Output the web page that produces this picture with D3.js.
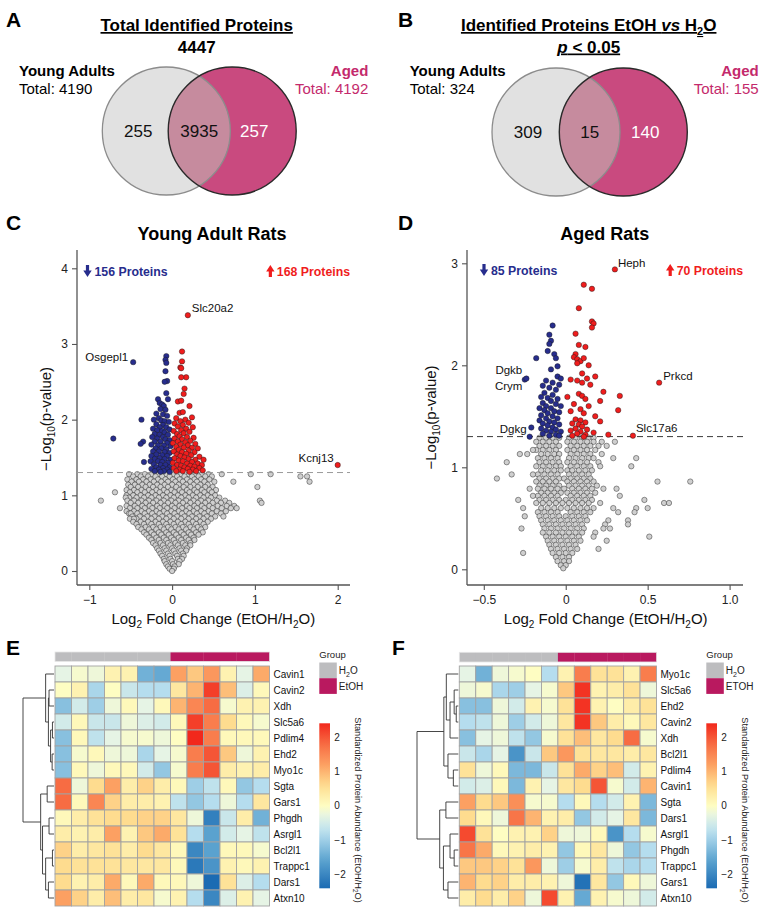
<!DOCTYPE html>
<html><head><meta charset="utf-8">
<script src="https://cdn.jsdelivr.net/npm/d3@7"></script>
<style>
body{margin:0;background:#fff;}
svg{display:block;font-family:"Liberation Sans",Arial,sans-serif;}
</style></head><body>
<svg id="fig" width="766" height="920"></svg>
<script>
// ================= DATA =================
// Venn A / B
const vennNames = ["Young Adults", "Aged"];
const vennCountsA = [255, 3935, 257];
const vennTotalsA = [4190, 4192];
const vennGrandA = 4447;
const vennCountsB = [309, 15, 140];
const vennTotalsB = [324, 155];

// Volcano ticks and counts
const ticksCx = [-1, 0, 1, 2];
const ticksCy = [0, 1, 2, 3, 4];
const ticksDx = [-0.5, 0, 0.5, 1.0];
const ticksDy = [0, 1, 2, 3];
const countsC = [156, 168];
const countsD = [85, 70];
const pThreshold = 0.05;

// Volcano C (young adult) : gray rows [y, [x...]]
const grayRowsC = [
 [1.28,[-0.52,-0.42,-0.33,-0.25,-0.16,-0.07,0.02,0.11,0.20,0.28,0.36,0.44,0.60,0.95,1.19]],
 [1.25,[-0.47,-0.38,-0.29,-0.20,-0.12,-0.03,0.06,0.15,0.24,0.32,0.40,0.48,1.55,1.63]],
 [1.21,[-0.54,-0.43,-0.35,-0.26,-0.17,-0.08,0.01,0.09,0.18,0.27,0.35,0.45]],
 [1.18,[-0.49,-0.40,-0.31,-0.22,-0.13,-0.05,0.04,0.13,0.22,0.30,0.39,0.51,0.74,1.66]],
 [1.14,[-0.53,-0.45,-0.36,-0.27,-0.18,-0.09,0.00,0.08,0.17,0.26,0.34,0.43]],
 [1.11,[-0.50,-0.41,-0.32,-0.23,-0.14,-0.05,0.05,0.14,0.22,0.31,0.40,0.49,1.03]],
 [1.07,[-0.55,-0.46,-0.37,-0.28,-0.19,-0.10,-0.01,0.09,0.18,0.27,0.36,0.45,0.53]],
 [1.04,[-0.51,-0.42,-0.33,-0.24,-0.15,-0.06,0.03,0.12,0.21,0.30,0.39,0.48,-0.69]],
 [1.00,[-0.55,-0.47,-0.38,-0.29,-0.20,-0.11,-0.02,0.07,0.16,0.25,0.34,0.43,0.52]],
 [0.97,[-0.52,-0.43,-0.34,-0.25,-0.16,-0.07,0.02,0.11,0.20,0.29,0.38,0.47,0.57,-0.56]],
 [0.93,[-0.54,-0.46,-0.37,-0.28,-0.19,-0.10,-0.01,0.08,0.17,0.26,0.35,0.44,0.54,0.64,1.06,-0.86]],
 [0.90,[-0.50,-0.41,-0.32,-0.23,-0.14,-0.05,0.04,0.13,0.22,0.31,0.40,0.49,0.59,0.69,1.08]],
 [0.86,[-0.55,-0.45,-0.36,-0.27,-0.18,-0.09,0.00,0.09,0.18,0.27,0.36,0.45,0.55,0.66,0.75]],
 [0.83,[-0.51,-0.42,-0.33,-0.24,-0.15,-0.06,0.03,0.12,0.21,0.30,0.39,0.49,0.60,0.71,0.78,-0.63]],
 [0.79,[-0.55,-0.46,-0.37,-0.28,-0.19,-0.10,-0.01,0.08,0.17,0.26,0.35,0.44,0.54,0.65]],
 [0.76,[-0.52,-0.42,-0.33,-0.24,-0.15,-0.06,0.03,0.12,0.21,0.30,0.39,0.48,0.59,-0.50]],
 [0.72,[-0.48,-0.39,-0.30,-0.21,-0.12,-0.03,0.06,0.15,0.24,0.33,0.42,0.52,0.62]],
 [0.69,[-0.51,-0.43,-0.34,-0.25,-0.16,-0.07,0.02,0.11,0.20,0.29,0.38,0.47,-0.46]],
 [0.65,[-0.47,-0.38,-0.29,-0.20,-0.11,-0.02,0.07,0.16,0.25,0.34,0.43]],
 [0.62,[-0.43,-0.34,-0.25,-0.16,-0.07,0.02,0.11,0.20,0.29,0.38]],
 [0.58,[-0.41,-0.32,-0.23,-0.14,-0.05,0.04,0.13,0.22,0.31,0.40]],
 [0.55,[-0.37,-0.28,-0.19,-0.10,-0.01,0.08,0.17,0.26,0.35]],
 [0.51,[-0.34,-0.25,-0.16,-0.07,0.02,0.11,0.20,0.29,0.37]],
 [0.48,[-0.31,-0.22,-0.13,-0.04,0.05,0.14,0.23,0.32]],
 [0.44,[-0.28,-0.19,-0.10,-0.01,0.08,0.17,0.26]],
 [0.41,[-0.25,-0.16,-0.07,0.02,0.11,0.20,0.27]],
 [0.37,[-0.23,-0.14,-0.05,0.04,0.13,0.22]],
 [0.34,[-0.20,-0.11,-0.02,0.07,0.16,0.22]],
 [0.30,[-0.18,-0.09,0.00,0.09,0.18]],
 [0.27,[-0.16,-0.07,0.02,0.11,0.17]],
 [0.23,[-0.14,-0.05,0.04,0.13]],
 [0.20,[-0.12,-0.03,0.06,0.14]],
 [0.16,[-0.10,-0.02,0.07,0.12]],
 [0.13,[-0.09,0.00,0.09]],
 [0.09,[-0.07,0.01,0.08]],
 [0.06,[-0.05,0.03]],
 [0.03,[-0.03,0.02]],
 [0.00,[0.00]]
];
const blueC = [[-0.07,2.84],[-0.08,2.79],[-0.07,2.75],[-0.08,2.64],[-0.06,2.51],[-0.09,2.50],[-0.07,2.35],[-0.05,2.27],[-0.17,2.27],[-0.15,2.22],[-0.12,2.20],[-0.10,2.18],[-0.14,2.14],[-0.08,2.13],[-0.19,2.08],[-0.11,2.07],[-0.06,2.05],[-0.16,2.02],[-0.22,2.00],[-0.13,1.99],[-0.09,1.98],[-0.04,1.97],[-0.19,1.94],[-0.11,1.93],[-0.15,1.90],[-0.07,1.90],[-0.23,1.88],[-0.03,1.87],[-0.18,1.86],[-0.12,1.85],[-0.09,1.83],[-0.21,1.81],[-0.15,1.80],[-0.05,1.80],[-0.24,1.77],[-0.11,1.77],[-0.18,1.75],[-0.08,1.74],[-0.03,1.73],[-0.21,1.71],[-0.14,1.71],[-0.06,1.69],[-0.25,1.67],[-0.17,1.66],[-0.10,1.66],[-0.02,1.65],[-0.20,1.62],[-0.13,1.62],[-0.07,1.61],[-0.23,1.58],[-0.16,1.58],[-0.09,1.57],[-0.03,1.56],[-0.19,1.54],[-0.12,1.53],[-0.25,1.52],[-0.06,1.52],[-0.15,1.49],[-0.21,1.48],[-0.09,1.48],[-0.02,1.47],[-0.26,1.45],[-0.17,1.45],[-0.12,1.44],[-0.05,1.43],[-0.22,1.41],[-0.14,1.40],[-0.08,1.40],[-0.19,1.37],[-0.03,1.37],[-0.11,1.36],[-0.25,1.35],[-0.16,1.34],[-0.06,1.34],[-0.21,1.32],[-0.10,1.32],[-0.14,1.31],[-0.03,1.31],
 [-0.71,1.75],[-0.37,2.00],[-0.35,1.71],[-0.38,1.68],[-0.34,1.44]];
const redC = [[0.12,2.90],[0.12,2.77],[0.10,2.69],[0.11,2.68],[0.17,2.56],[0.11,2.56],[0.15,2.41],[0.14,2.34],[0.07,2.24],[0.11,2.25],[0.21,2.18],[0.09,2.09],[0.13,2.10],[0.24,2.03],[0.05,2.02],[0.16,2.00],[0.10,1.98],[0.20,1.96],[0.03,1.95],[0.13,1.93],[0.07,1.91],[0.25,1.90],[0.17,1.88],[0.11,1.86],[0.02,1.85],[0.21,1.84],[0.14,1.82],[0.06,1.81],[0.09,1.78],[0.18,1.77],[0.26,1.76],[0.03,1.75],[0.12,1.74],[0.22,1.72],[0.07,1.71],[0.16,1.70],[0.01,1.69],[0.28,1.68],[0.10,1.67],[0.19,1.66],[0.05,1.64],[0.14,1.63],[0.24,1.63],[0.31,1.62],[0.08,1.60],[0.20,1.59],[0.02,1.58],[0.12,1.57],[0.27,1.57],[0.17,1.55],[0.06,1.54],[0.23,1.53],[0.10,1.52],[0.33,1.51],[0.15,1.50],[0.03,1.49],[0.20,1.48],[0.28,1.47],[0.38,1.47],[0.08,1.46],[0.13,1.45],[0.24,1.44],[0.01,1.43],[0.18,1.42],[0.31,1.42],[0.36,1.40],[0.06,1.40],[0.11,1.39],[0.22,1.39],[0.27,1.38],[0.15,1.37],[0.02,1.36],[0.33,1.36],[0.19,1.35],[0.09,1.34],[0.25,1.34],[0.37,1.33],[0.13,1.32],[0.05,1.32],[0.29,1.32],[0.21,1.31]];
const labeledC = [["Slc20a2",0.19,3.38,"up"],["Osgepl1",-0.47,2.76,"down"],["Kcnj13",2.00,1.40,"up"]];

// Volcano D (aged)
const grayRowsD = [
 [1.29,[-0.16,-0.12,-0.08,-0.04,0.02,0.06,0.10,0.14,0.17]],
 [1.25,[-0.18,-0.14,-0.10,-0.06,0.01,0.05,0.09,0.13,0.17,0.22,0.30]],
 [1.21,[-0.16,-0.12,-0.08,-0.04,0.03,0.07,0.11,0.15,0.20,0.25]],
 [1.17,[-0.18,-0.14,-0.10,-0.06,0.01,0.05,0.09,0.13,0.18,-0.20]],
 [1.13,[-0.15,-0.11,-0.07,-0.04,0.03,0.07,0.11,0.15,0.22,-0.28,-0.235]],
 [1.09,[-0.17,-0.13,-0.09,-0.05,0.02,0.06,0.10,0.14,0.17,0.29,0.43]],
 [1.05,[-0.16,-0.12,-0.08,-0.04,0.01,0.05,0.09,0.13,0.20,-0.36]],
 [1.01,[-0.18,-0.14,-0.10,-0.06,-0.03,0.03,0.07,0.11,0.15,0.40,0.21]],
 [0.97,[-0.15,-0.11,-0.07,-0.03,0.01,0.04,0.08,0.12,0.16]],
 [0.93,[-0.17,-0.13,-0.09,-0.05,0.02,0.06,0.10,0.14,-0.33,-0.20]],
 [0.89,[-0.16,-0.12,-0.08,-0.04,-0.01,0.03,0.07,0.11,0.15,-0.42]],
 [0.86,[-0.18,-0.14,-0.10,-0.06,0.01,0.05,0.09,0.13,0.17,0.56,0.76]],
 [0.82,[-0.16,-0.12,-0.08,-0.04,0.02,0.06,0.10,0.14,0.19]],
 [0.79,[-0.17,-0.13,-0.09,-0.05,-0.01,0.04,0.08,0.12,0.16,0.23,0.31,-0.22]],
 [0.75,[-0.15,-0.11,-0.07,-0.03,0.01,0.05,0.09,0.13,0.18]],
 [0.72,[-0.17,-0.13,-0.09,-0.05,0.03,0.07,0.11,0.15,0.33,-0.20]],
 [0.68,[-0.16,-0.12,-0.08,-0.04,0.00,0.04,0.08,0.12,0.16,-0.29,0.48]],
 [0.65,[-0.18,-0.14,-0.10,-0.06,-0.02,0.02,0.06,0.10,0.14,0.21,0.60,0.63]],
 [0.60,[-0.15,-0.11,-0.07,-0.03,0.01,0.05,0.09,0.13,0.17,-0.26,0.29,0.43,0.50]],
 [0.56,[-0.17,-0.13,-0.09,-0.05,0.03,0.07,0.11,0.15,0.32,0.42]],
 [0.52,[-0.16,-0.12,-0.08,-0.04,0.00,0.04,0.08,0.12,-0.25]],
 [0.48,[-0.15,-0.11,-0.07,-0.03,0.01,0.05,0.09,0.13,0.38,0.26]],
 [0.44,[-0.14,-0.10,-0.06,-0.02,0.02,0.06,0.10,0.24,0.38]],
 [0.40,[-0.13,-0.09,-0.05,-0.01,0.03,0.07,0.11,-0.27,0.27,0.23]],
 [0.36,[-0.14,-0.10,-0.06,-0.02,0.02,0.06,0.10,0.18]],
 [0.32,[-0.12,-0.08,-0.04,0.00,0.04,0.08,0.51,0.17]],
 [0.28,[-0.11,-0.07,-0.03,0.01,0.05,0.09,0.25]],
 [0.24,[-0.10,-0.06,-0.02,0.02,0.06]],
 [0.20,[-0.09,-0.05,-0.01,0.03,0.07,0.20]],
 [0.16,[-0.08,-0.04,0.00,0.04,-0.26]],
 [0.12,[-0.06,-0.02,0.02]],
 [0.08,[-0.05,-0.01,0.02]],
 [0.04,[-0.03,0.00]],
 [0.01,[-0.015]]
];
const blueD = [[-0.08,2.39],[-0.10,2.30],[-0.09,2.24],[-0.10,2.21],[-0.11,2.14],[-0.07,2.11],[-0.06,2.07],[-0.18,2.07],[-0.05,1.99],[-0.09,1.96],[-0.05,1.89],[-0.03,1.87],[-0.12,1.85],[-0.08,1.83],[-0.04,1.81],[-0.14,1.80],[-0.10,1.78],[-0.06,1.76],[-0.13,1.73],[-0.08,1.71],[-0.15,1.69],[-0.11,1.68],[-0.05,1.67],[-0.09,1.65],[-0.14,1.63],[-0.06,1.62],[-0.12,1.60],[-0.03,1.60],[-0.16,1.58],[-0.09,1.58],[-0.13,1.56],[-0.07,1.55],[-0.04,1.54],[-0.11,1.53],[-0.15,1.51],[-0.08,1.50],[-0.12,1.48],[-0.05,1.48],[-0.16,1.46],[-0.10,1.45],[-0.07,1.44],[-0.14,1.43],[-0.04,1.42],[-0.11,1.41],[-0.08,1.39],[-0.15,1.38],[-0.06,1.37],[-0.12,1.36],[-0.09,1.35],[-0.03,1.35],[-0.14,1.33],[-0.06,1.32],[-0.10,1.31],[-0.04,1.31],[-0.21,1.39]];
const redD = [[0.11,2.79],[0.16,2.75],[0.08,2.56],[0.16,2.43],[0.17,2.41],[0.16,2.37],[0.06,2.31],[0.08,2.20],[0.12,2.18],[0.06,2.11],[0.05,2.08],[0.07,2.06],[0.09,2.04],[0.11,2.07],[0.14,2.00],[0.07,2.02],[0.18,1.89],[0.10,1.92],[0.13,1.87],[0.03,1.86],[0.07,1.85],[0.10,1.83],[0.15,1.81],[0.23,1.74],[0.33,1.70],[0.01,1.69],[0.08,1.72],[0.10,1.70],[0.12,1.67],[0.21,1.65],[0.05,1.62],[0.14,1.60],[0.32,1.56],[0.09,1.57],[0.03,1.55],[0.11,1.53],[0.18,1.50],[0.06,1.47],[0.09,1.46],[0.21,1.45],[0.12,1.44],[0.04,1.43],[0.08,1.42],[0.10,1.40],[0.06,1.38],[0.13,1.37],[0.03,1.36],[0.09,1.35],[0.17,1.34],[0.07,1.33],[0.26,1.32],[0.12,1.32],[0.04,1.31],[0.11,1.30]];
const labeledD = [["Heph",0.30,2.94,"up"],["Prkcd",0.57,1.83,"up"],["Slc17a6",0.41,1.31,"up"],["Dgkb",-0.25,1.86,"down"],["Crym",-0.24,1.87,"down"],["Dgkg",-0.22,1.30,"down"]];

// Heatmaps
const heatRowsE = ["Cavin1","Cavin2","Xdh","Slc5a6","Pdlim4","Ehd2","Myo1c","Sgta","Gars1","Phgdh","Asrgl1","Bcl2l1","Trappc1","Dars1","Atxn10"];
const heatGroupsE = ["H2O","H2O","H2O","H2O","H2O","H2O","H2O","EtOH","EtOH","EtOH","EtOH","EtOH","EtOH"];
const heatValuesE = [
 [-0.3,-0.1,-0.2,0.2,0.2,-1.4,-1.5,1.2,0.8,1.3,0.2,-0.3,1.1],
 [0.0,0.2,-0.9,0.0,-0.6,-0.8,-0.8,0.4,1.0,2.2,0.9,-0.4,0.1],
 [-1.2,-0.5,-1.0,-0.2,0.1,-0.3,0.1,1.0,1.5,1.8,-0.1,0.2,0.2],
 [-0.5,0.1,-0.6,-0.6,-0.2,-0.4,-0.5,0.1,2.2,1.6,0.6,0.1,-0.1],
 [-1.2,0.1,-0.7,-0.3,-0.1,-0.1,-0.2,0.0,2.4,1.6,0.1,0.1,0.1],
 [-1.2,-0.1,0.1,-0.2,-0.2,-0.9,-0.3,-0.1,1.6,2.0,0.8,-0.2,0.2],
 [-1.2,0.1,-0.2,0.1,0.1,-0.5,-1.1,-0.1,1.6,2.0,0.3,0.2,0.3],
 [1.8,-0.2,0.6,1.2,0.3,0.7,0.3,0.1,-1.0,-0.7,0.1,-1.1,-0.8],
 [1.8,0.1,1.5,0.7,0.3,0.3,0.2,-0.7,-1.1,-0.8,-0.2,-0.8,0.4],
 [0.1,0.3,0.5,0.6,0.6,0.7,0.7,0.4,-0.2,-2.1,-0.6,0.3,-1.4],
 [0.3,0.2,0.3,1.2,0.2,0.8,1.1,0.5,-0.8,-1.6,-0.5,-0.3,-0.7],
 [0.7,0.3,0.4,0.5,0.3,0.6,0.4,0.1,-2.0,-1.6,0.1,0.1,-0.1],
 [0.6,0.5,0.5,0.5,0.4,0.4,0.4,0.1,-2.2,-1.8,0.2,0.1,0.2],
 [0.6,0.2,0.3,1.1,0.1,1.1,0.1,0.1,-0.2,-2.4,0.5,-0.4,-0.8],
 [1.2,0.7,0.3,0.9,0.3,0.4,-0.1,0.2,-0.8,-2.0,-0.4,0.2,-0.3]
];
const heatTreeE = [1.0,
 [0.27, 0, [0.18, [0.16, 1, 2], [0.11, [0.05, 3, 4], [0.06, 5, 6]]]],
 [0.43, [0.22, 7, 8], [0.37, [0.16, 9, 10], [0.27, [0.05, 11, 12], [0.18, 13, 14]]]]];

const heatRowsF = ["Myo1c","Slc5a6","Ehd2","Cavin2","Xdh","Bcl2l1","Pdlim4","Cavin1","Sgta","Dars1","Asrgl1","Phgdh","Trappc1","Gars1","Atxn10"];
const heatGroupsF = ["H2O","H2O","H2O","H2O","H2O","H2O","ETOH","ETOH","ETOH","ETOH","ETOH","ETOH"];
const heatValuesF = [
 [-0.3,-1.4,-0.2,-0.1,0.0,-0.8,0.2,1.6,0.5,0.5,0.2,1.6],
 [-0.2,-0.1,-0.9,-1.0,-0.3,-0.1,0.8,2.3,0.2,0.3,0.5,-0.2],
 [-1.2,-1.2,-0.2,-0.5,0.2,-0.1,0.5,2.3,0.2,0.0,0.3,0.5],
 [-0.8,-0.7,-0.2,-1.0,-0.5,-0.2,0.4,2.3,0.8,0.3,0.1,0.4],
 [-1.2,-0.3,-0.2,-0.7,-1.1,-0.1,0.5,0.9,0.4,0.6,1.8,-0.1],
 [-0.6,-0.9,-0.3,-1.8,-0.6,0.8,1.3,0.5,0.4,0.4,0.3,0.4],
 [0.5,-0.2,0.1,-1.3,-1.3,-0.6,0.5,1.1,0.7,0.9,-0.5,0.2],
 [-0.5,-0.4,0.1,-1.3,0.2,-0.3,0.4,0.6,2.0,-0.1,-0.5,1.0],
 [1.2,0.6,0.8,1.4,-0.1,-0.1,-0.8,0.1,-0.8,-0.5,0.2,-1.3],
 [0.6,0.1,-0.2,1.7,1.0,0.2,0.3,-1.1,-0.5,-0.3,0.4,-1.3],
 [2.1,0.5,0.0,0.2,0.2,0.7,-0.2,-0.2,0.1,-1.8,-0.8,-0.1],
 [1.7,1.1,0.1,0.2,0.3,0.2,-1.1,0.1,0.4,-0.2,-1.1,-0.8],
 [0.8,0.8,0.7,0.5,1.3,-0.2,-1.0,-0.1,0.3,-0.7,-0.9,-0.8],
 [1.0,0.6,0.7,0.3,0.3,0.2,-0.2,-2.3,0.4,-1.1,0.1,-0.2],
 [0.3,0.6,0.3,0.7,-0.2,2.1,0.2,-1.5,0.2,-0.1,-0.2,-0.5]
];
const heatTreeF = [1.0,
 [0.35, [0.29, 0, [0.20, [0.10, 1, [0.05, 2, 3]], 4]], [0.25, 5, [0.12, 6, 7]]],
 [0.45, [0.30, 8, 9], [0.36, [0.20, 10, [0.10, 11, 12]], [0.25, 13, 14]]]];
const legendTicks = [-2, -1, 0, 1, 2];
const legendDomain = [-2.4, 2.4];

// ================= STYLE =================
const C = {
  pinkFill: "#c94a7f", lens: "#c68b9e", grayFill: "#e1e1e1",
  magentaText: "#c42a6c", blue: "#272d8d", red: "#f01d1d",
  grayPt: "#cfcfcf", groupH2O: "#bdbdbf", groupEtOH: "#b9195f"
};
const heatStops = [-2.4,-1.6,-0.8,-0.3,0,0.6,1.2,1.8,2.4];
const heatColors = ["#1b6bb3","#5aa2cf","#b5ddee","#e6f4e5","#fefdc2","#fedc8f","#fca062","#f76c43","#f2281c"];
const heatColor = d3.scaleLinear().domain(heatStops).range(heatColors).clamp(true);

const svg = d3.select("#fig");

function txt(g, x, y, s, o = {}) {
  const t = g.append("text").attr("x", x).attr("y", y).text(s)
    .attr("font-size", o.size || 12).attr("fill", o.fill || "#000")
    .attr("text-anchor", o.anchor || "start");
  if (o.bold) t.attr("font-weight", "bold");
  if (o.italic) t.attr("font-style", "italic");
  return t;
}
function panelLetter(x, y, s) { txt(svg, x, y, s, {size: 21, bold: true}); }

// ================= VENN =================
function venn(cfg) {
  const g = svg.append("g");
  const {cx1, cx2, cy, r, counts, totals, id} = cfg;
  const defs = g.append("defs");
  defs.append("clipPath").attr("id", "clip" + id).append("circle").attr("cx", cx1).attr("cy", cy).attr("r", r);
  g.append("circle").attr("cx", cx1).attr("cy", cy).attr("r", r).attr("fill", C.grayFill);
  g.append("circle").attr("cx", cx2).attr("cy", cy).attr("r", r).attr("fill", C.pinkFill);
  g.append("circle").attr("cx", cx2).attr("cy", cy).attr("r", r).attr("fill", C.lens).attr("clip-path", `url(#clip${id})`);
  g.append("circle").attr("cx", cx1).attr("cy", cy).attr("r", r).attr("fill", "none").attr("stroke", "#8c8c8c").attr("stroke-width", 1.3);
  g.append("circle").attr("cx", cx2).attr("cy", cy).attr("r", r).attr("fill", "none").attr("stroke", "#2a2a2a").attr("stroke-width", 1.4);
  const xs = [cx1 - 28, (cx1 + cx2) / 2, cx2 + 22];
  const fills = ["#111", "#111", "#fff"];
  counts.forEach((c, i) => txt(g, xs[i], cy + 5.5, c, {size: 17, anchor: "middle", fill: fills[i]}));
  txt(g, cfg.lx, 76, vennNames[0], {size: 15, bold: true});
  txt(g, cfg.lx, 93.5, "Total: " + totals[0], {size: 15});
  txt(g, cfg.rx, 76, vennNames[1], {size: 15, bold: true, anchor: "end", fill: C.magentaText});
  txt(g, cfg.rx, 93.5, "Total: " + totals[1], {size: 15, anchor: "end", fill: C.magentaText});
}
panelLetter(6, 27, "A");
txt(svg, 196.7, 31, "Total Identified Proteins", {size: 17, bold: true, anchor: "middle"}).style("text-decoration", "underline");
txt(svg, 196.7, 53, vennGrandA, {size: 17, bold: true, anchor: "middle"});
venn({id: "A", cx1: 166.3, cx2: 232.2, cy: 131, r: 64, counts: vennCountsA, totals: vennTotalsA, lx: 19, rx: 368.3});

panelLetter(398, 27, "B");
{
  const t = svg.append("text").attr("x", 588.7).attr("y", 31).attr("text-anchor", "middle")
    .attr("font-size", 17).attr("font-weight", "bold").style("text-decoration", "underline");
  t.append("tspan").text("Identified Proteins EtOH ");
  t.append("tspan").attr("font-style", "italic").text("vs");
  t.append("tspan").text(" H");
  t.append("tspan").attr("font-size", 11).attr("dy", 4).text("2");
  t.append("tspan").attr("dy", -4).text("O");
  const p = svg.append("text").attr("x", 588.7).attr("y", 52.5).attr("text-anchor", "middle")
    .attr("font-size", 17).attr("font-weight", "bold").style("text-decoration", "underline");
  p.append("tspan").attr("font-style", "italic").text("p");
  p.append("tspan").text(" < " + pThreshold.toFixed(2));
}
venn({id: "B", cx1: 556, cx2: 623.3, cy: 132, r: 64, counts: vennCountsB, totals: vennTotalsB, lx: 409.7, rx: 758.7});

// ================= VOLCANO =================
function arrow(g, cx, top, dir, fill) {
  // dir: "down" or "up"; height 12
  const h = 12, hw = 4.2, sw = 1.6, hh = 6.5;
  let pts;
  if (dir === "down") {
    pts = [[cx - sw, top], [cx + sw, top], [cx + sw, top + h - hh], [cx + hw, top + h - hh], [cx, top + h], [cx - hw, top + h - hh], [cx - sw, top + h - hh]];
  } else {
    pts = [[cx, top], [cx + hw, top + hh], [cx + sw, top + hh], [cx + sw, top + h], [cx - sw, top + h], [cx - sw, top + hh], [cx - hw, top + hh]];
  }
  g.append("path").attr("d", "M" + pts.map(p => p.join(",")).join("L") + "Z").attr("fill", fill);
}

function volcano(cfg) {
  const g = svg.append("g");
  const x = d3.scaleLinear().domain(cfg.xDomain).range(cfg.xRange);
  const y = d3.scaleLinear().domain(cfg.yDomain).range(cfg.yRange);
  const ax = cfg.axisX, ay = cfg.axisY;
  // axes
  const yAxis = g.append("g").attr("transform", `translate(${ax},0)`)
    .call(d3.axisLeft(y).tickValues(cfg.yTicks).tickSize(5).tickPadding(4).tickFormat(d3.format("d")));
  const xAxis = g.append("g").attr("transform", `translate(0,${ay})`)
    .call(d3.axisBottom(x).tickValues(cfg.xTicks).tickSize(5).tickPadding(5).tickFormat(cfg.xFmt));
  [yAxis, xAxis].forEach(a => {
    a.select(".domain").remove();
    a.selectAll(".tick line").attr("stroke", "#555").attr("stroke-width", 1.1);
    a.selectAll(".tick text").attr("font-size", 12).attr("fill", "#222").attr("font-family", "Liberation Sans, Arial, sans-serif");
  });
  g.append("line").attr("x1", ax).attr("x2", ax).attr("y1", cfg.axisTop).attr("y2", ay).attr("stroke", "#555").attr("stroke-width", 1.3);
  g.append("line").attr("x1", ax).attr("x2", cfg.axisRight).attr("y1", ay).attr("y2", ay).attr("stroke", "#555").attr("stroke-width", 1.3);
  // threshold
  const ty = y(-Math.log10(pThreshold));
  // points
  const dot = (data, fill) => g.append("g").selectAll("circle").data(data).join("circle")
    .attr("cx", d => x(d[0])).attr("cy", d => y(d[1])).attr("r", 2.7)
    .attr("fill", fill).attr("stroke", "#1a1a1a").attr("stroke-width", 0.45);
  const gray = cfg.grayRows.flatMap(([yv, xs]) => xs.map(xv => [xv, yv]));
  dot(gray, C.grayPt);
  g.append("line").attr("x1", ax).attr("x2", cfg.axisRight).attr("y1", ty).attr("y2", ty)
    .attr("stroke", cfg.dashColor).attr("stroke-width", 1).attr("stroke-dasharray", "6,4");
  dot(cfg.blue, C.blue);
  dot(cfg.red, C.red);
  cfg.labeled.forEach(([name, xv, yv, dir]) => {
    const px = x(xv), py = y(yv);
    g.append("circle").attr("cx", px).attr("cy", py).attr("r", 2.7)
      .attr("fill", dir === "up" ? C.red : C.blue).attr("stroke", "#1a1a1a").attr("stroke-width", 0.45);
    const off = cfg.labelOffsets[name];
    txt(g, px + off[0], py + off[1], name, {size: 11.5, anchor: off[2], fill: "#111"});
  });
  // counts
  arrow(g, cfg.downArrowX, cfg.countsY - 10.5, "down", C.blue);
  txt(g, cfg.downArrowX + 7, cfg.countsY, cfg.counts[0] + " Proteins", {size: 12.3, bold: true, fill: C.blue});
  txt(g, cfg.axisRight, cfg.countsY, cfg.counts[1] + " Proteins", {size: 12.3, bold: true, fill: C.red, anchor: "end"})
    .each(function () {
      const w = this.getComputedTextLength();
      arrow(g, cfg.axisRight - w - 6.5, cfg.countsY - 10.5, "up", C.red);
    });
  // titles
  txt(svg, cfg.titleX, 239.5, cfg.title, {size: 18, bold: true, anchor: "middle"});
  const yl = svg.append("text").attr("transform", `translate(${cfg.ylabX},${cfg.ylabY}) rotate(-90)`)
    .attr("text-anchor", "middle").attr("font-size", 15).attr("fill", "#111");
  yl.append("tspan").text("\u2212Log");
  yl.append("tspan").attr("font-size", 10).attr("dy", 4).text("10");
  yl.append("tspan").attr("dy", -4).text("(p-value)");
  const xl = svg.append("text").attr("x", cfg.xlabX).attr("y", 623.5)
    .attr("text-anchor", "middle").attr("font-size", 15).attr("fill", "#111");
  xl.append("tspan").text("Log");
  xl.append("tspan").attr("font-size", 10).attr("dy", 4).text("2");
  xl.append("tspan").attr("dy", -4).text(" Fold Change (EtOH/H");
  xl.append("tspan").attr("font-size", 10).attr("dy", 4).text("2");
  xl.append("tspan").attr("dy", -4).text("O)");
}
const minusFmt = d => (d < 0 ? "\u2212" : "") + Math.abs(d);
panelLetter(6, 230, "C");
volcano({
  xDomain: [-1, 2], xRange: [89.3, 337.7], yDomain: [0, 4], yRange: [571, 268.3],
  axisX: 77, axisY: 585, axisTop: 250, axisRight: 350,
  xTicks: ticksCx, yTicks: ticksCy, xFmt: minusFmt,
  grayRows: grayRowsC, blue: blueC, red: redC, labeled: labeledC,
  labelOffsets: {Slc20a2: [4, -3, "start"], Osgepl1: [-5, -1, "end"], Kcnj13: [-4, -3, "end"]},
  dashColor: "#9a9a9a", counts: countsC, countsY: 275.5, downArrowX: 87.5,
  title: "Young Adult Rats", titleX: 212, ylabX: 51, ylabY: 419, xlabX: 213.3
});
panelLetter(398, 230, "D");
volcano({
  xDomain: [-0.5, 1], xRange: [483.8, 729.6], yDomain: [0, 3], yRange: [569.3, 263.3],
  axisX: 467, axisY: 585, axisTop: 250, axisRight: 743,
  xTicks: ticksDx, yTicks: ticksDy, xFmt: d => (d < 0 ? "\u2212" : "") + (d === 0 ? "0" : Math.abs(d).toFixed(1)),
  grayRows: grayRowsD, blue: blueD, red: redD, labeled: labeledD,
  labelOffsets: {Heph: [3, -2.5, "start"], Prkcd: [4, -2.6, "start"], Slc17a6: [3, -3.3, "start"],
                 Dgkb: [-2.5, -6, "end"], Crym: [-4, 11, "end"], Dgkg: [-3, -3.7, "end"]},
  dashColor: "#3a3a3a", counts: countsD, countsY: 274.5, downArrowX: 484,
  title: "Aged Rats", titleX: 604.7, ylabX: 436, ylabY: 417.5, xlabX: 605.7
});

// ================= HEATMAPS =================
const groupColor = d => d === "H2O" ? C.groupH2O : C.groupEtOH;
function heatmap(cfg) {
  const g = svg.append("g");
  const ncol = cfg.values[0].length;
  const x = d3.scaleBand().domain(d3.range(ncol)).range([cfg.x0, cfg.x1]);
  const y = d3.scaleBand().domain(cfg.rows).range([cfg.y0, cfg.y1]);
  // group annotation bar
  g.append("g").selectAll("rect").data(cfg.groups).join("rect")
    .attr("x", (d, i) => x(i)).attr("y", cfg.barY0).attr("width", x.bandwidth() + 0.3)
    .attr("height", cfg.barY1 - cfg.barY0).attr("fill", groupColor);
  g.append("rect").attr("x", cfg.x0).attr("y", cfg.barY0).attr("width", cfg.x1 - cfg.x0)
    .attr("height", cfg.barY1 - cfg.barY0).attr("fill", "none").attr("stroke", "#e6e6e6").attr("stroke-width", 0.8);
  // cells
  cfg.rows.forEach((r, ri) => {
    g.append("g").selectAll("rect").data(cfg.values[ri]).join("rect")
      .attr("x", (d, i) => x(i)).attr("y", y(r)).attr("width", x.bandwidth()).attr("height", y.bandwidth())
      .attr("fill", d => heatColor(d)).attr("stroke", "#a3a3a3").attr("stroke-width", 0.9);
  });
  // row labels
  cfg.rows.forEach(r => txt(g, cfg.x1 + 4, y(r) + y.bandwidth() / 2 + 3.5, r, {size: 10, fill: "#111"}));
  // dendrogram
  const right = cfg.x0 - 1, width = cfg.x0 - cfg.dendroLeft;
  const paths = [];
  function lay(node) {
    if (typeof node === "number") return {x: right, y: y(cfg.rows[node]) + y.bandwidth() / 2};
    const a = lay(node[1]), b = lay(node[2]);
    const nx = right - node[0] * width, ny = (a.y + b.y) / 2;
    paths.push(`M${a.x},${a.y}H${nx}V${b.y}H${b.x}`);
    return {x: nx, y: ny};
  }
  lay(cfg.tree);
  g.append("g").selectAll("path").data(paths).join("path").attr("d", d => d)
    .attr("fill", "none").attr("stroke", "#333").attr("stroke-width", 0.9);
  // legend: group
  const lx = cfg.legendX;
  txt(g, lx, 657.5, "Group", {size: 9.5, fill: "#222"});
  const legGroups = [cfg.groups[0], cfg.groups[ncol - 1]];
  legGroups.forEach((d, i) => {
    g.append("rect").attr("x", lx).attr("y", 662.5 + i * 15.7).attr("width", 17.5).attr("height", 15.7).attr("fill", groupColor(d));
    const t = g.append("text").attr("x", lx + 19.5).attr("y", 674 + i * 15.7).attr("font-size", 10).attr("fill", "#222");
    if (d === "H2O") { t.append("tspan").text("H"); t.append("tspan").attr("font-size", 7).attr("dy", 2.5).text("2"); t.append("tspan").attr("dy", -2.5).text("O"); }
    else t.text(d);
  });
  // legend: colour bar
  const ly = d3.scaleLinear().domain(legendDomain).range([888.3, 723.3]);
  const gid = "grad" + cfg.id;
  const grad = g.append("defs").append("linearGradient").attr("id", gid).attr("x1", 0).attr("x2", 0).attr("y1", 1).attr("y2", 0);
  d3.range(0, 1.0001, 0.05).forEach(t => {
    const v = legendDomain[0] + t * (legendDomain[1] - legendDomain[0]);
    grad.append("stop").attr("offset", t).attr("stop-color", heatColor(v));
  });
  g.append("rect").attr("x", lx).attr("y", 723.3).attr("width", 10.7).attr("height", 165).attr("fill", `url(#${gid})`);
  legendTicks.forEach(v => txt(g, lx + 15, ly(v) + 3.5, minusFmt(v), {size: 10, fill: "#222"}));
  const lt = g.append("text").attr("transform", `translate(${lx + 36},810) rotate(90)`)
    .attr("text-anchor", "middle").attr("font-size", 9.2).attr("fill", "#222");
  lt.append("tspan").text("Standardized Protein Abundance (EtOH/H");
  lt.append("tspan").attr("font-size", 6.5).attr("dy", 2.5).text("2");
  lt.append("tspan").attr("dy", -2.5).text("O)");
}
panelLetter(6, 655, "E");
heatmap({id: "E", rows: heatRowsE, groups: heatGroupsE, values: heatValuesE, tree: heatTreeE,
  x0: 55, x1: 269.5, y0: 666, y1: 906, barY0: 652, barY1: 661.5, dendroLeft: 24, legendX: 319.3});
panelLetter(392, 655, "F");
heatmap({id: "F", rows: heatRowsF, groups: heatGroupsF, values: heatValuesF, tree: heatTreeF,
  x0: 459.3, x1: 656.5, y0: 666, y1: 906, barY0: 652.3, barY1: 662, dendroLeft: 418, legendX: 706.3});
</script>
</body></html>
